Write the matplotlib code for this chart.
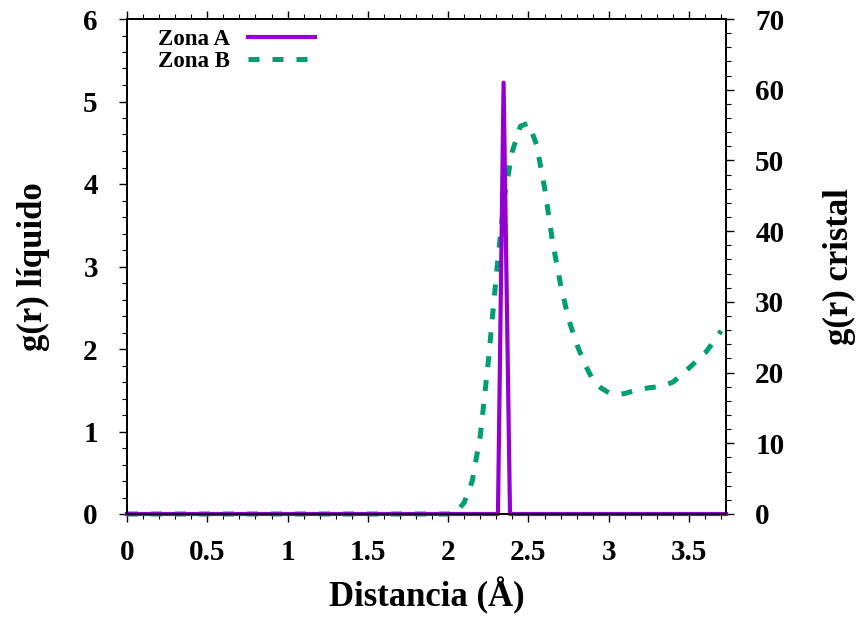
import matplotlib
matplotlib.use("Agg")
import matplotlib.pyplot as plt
from matplotlib.ticker import MultipleLocator, FuncFormatter

# Data
zona_a_x = [0.0, 2.31, 2.345, 2.385, 3.73]
zona_a_y = [0.0, 0.0, 61.0, 0.0, 0.0]   # g(r) cristal (right axis)

zona_b_x = [0.0, 0.5, 1.0, 1.5, 2.0, 2.05, 2.10, 2.15, 2.20, 2.25, 2.30, 2.35, 2.40,
            2.45, 2.50, 2.55, 2.60, 2.65, 2.70, 2.75, 2.80, 2.85, 2.90, 2.95,
            3.00, 3.05, 3.10, 3.15, 3.20, 3.25, 3.30, 3.35, 3.40, 3.45, 3.50,
            3.55, 3.60, 3.65, 3.70]
zona_b_y = [0.0, 0.0, 0.0, 0.0, 0.0, 0.02, 0.14, 0.40, 0.95, 1.85, 2.90, 3.85, 4.40,
            4.70, 4.74, 4.48, 3.96, 3.30, 2.78, 2.36, 2.06, 1.82, 1.63, 1.53,
            1.47, 1.45, 1.46, 1.49, 1.51, 1.53, 1.54, 1.56, 1.60, 1.68, 1.77,
            1.86, 1.95, 2.08, 2.22]   # g(r) liquido (left axis)

x_ticks = [0, 0.5, 1, 1.5, 2, 2.5, 3, 3.5]
y_left_ticks = [0, 1, 2, 3, 4, 5, 6]
y_right_ticks = [0, 10, 20, 30, 40, 50, 60, 70]

plt.rcParams['font.family'] = ['Liberation Serif', 'DejaVu Serif']
plt.rcParams['font.weight'] = 'bold'

fig = plt.figure(figsize=(8.68, 6.23), dpi=100)
ax = fig.add_axes([127/868, 1-514/623, (726-127)/868, (514-19)/623])
ax2 = ax.twinx()

purple = '#9400D3'
green = '#009E73'

lb, = ax.plot(zona_b_x, zona_b_y, color=green, lw=3.6, ls=(0, (2.2, 2.6)),
              clip_on=False, label='Zona B', solid_capstyle='butt', dash_capstyle='butt')
la, = ax2.plot(zona_a_x, zona_a_y, color=purple, lw=3.0, clip_on=False, label='Zona A')

ax.set_xlim(0, 3.73)
ax.set_ylim(0, 6)
ax2.set_ylim(0, 70)

ax.set_xticks(x_ticks)
ax.xaxis.set_minor_locator(MultipleLocator(0.1))
ax.set_yticks(y_left_ticks)
ax.yaxis.set_minor_locator(MultipleLocator(0.2))
ax2.set_yticks(y_right_ticks)
ax2.yaxis.set_minor_locator(MultipleLocator(2))

fmt = FuncFormatter(lambda v, p: ('%g' % v))
ax.xaxis.set_major_formatter(fmt)

for a in (ax, ax2):
    for s in a.spines.values():
        s.set_linewidth(1.3)
        s.set_zorder(5)
ax.tick_params(axis='x', which='both', direction='out', top=True, labelsize=21, pad=12)
ax.tick_params(axis='y', which='both', direction='out', right=False, labelsize=21, pad=15)
ax2.tick_params(axis='y', which='both', direction='out', labelsize=21, pad=15)
for a in (ax, ax2):
    a.tick_params(which='major', length=6, width=1.0)
    a.tick_params(which='minor', length=3.5, width=0.8)

ax.set_xlabel('Distancia (Å)', fontsize=25, fontweight='bold', labelpad=8)
ax.set_ylabel('g(r) líquido', fontsize=25, fontweight='bold', labelpad=24)
ax2.set_ylabel('g(r) cristal', fontsize=25, fontweight='bold', labelpad=28)

leg = ax.legend([la, lb], ['Zona A', 'Zona B'], loc='upper left', frameon=False,
                fontsize=16.5, markerfirst=False, handlelength=2.9, handletextpad=0.8,
                labelspacing=0.05, bbox_to_anchor=(0.027, 1.01), borderaxespad=0.25)

fig.savefig('out.png', dpi=100)
